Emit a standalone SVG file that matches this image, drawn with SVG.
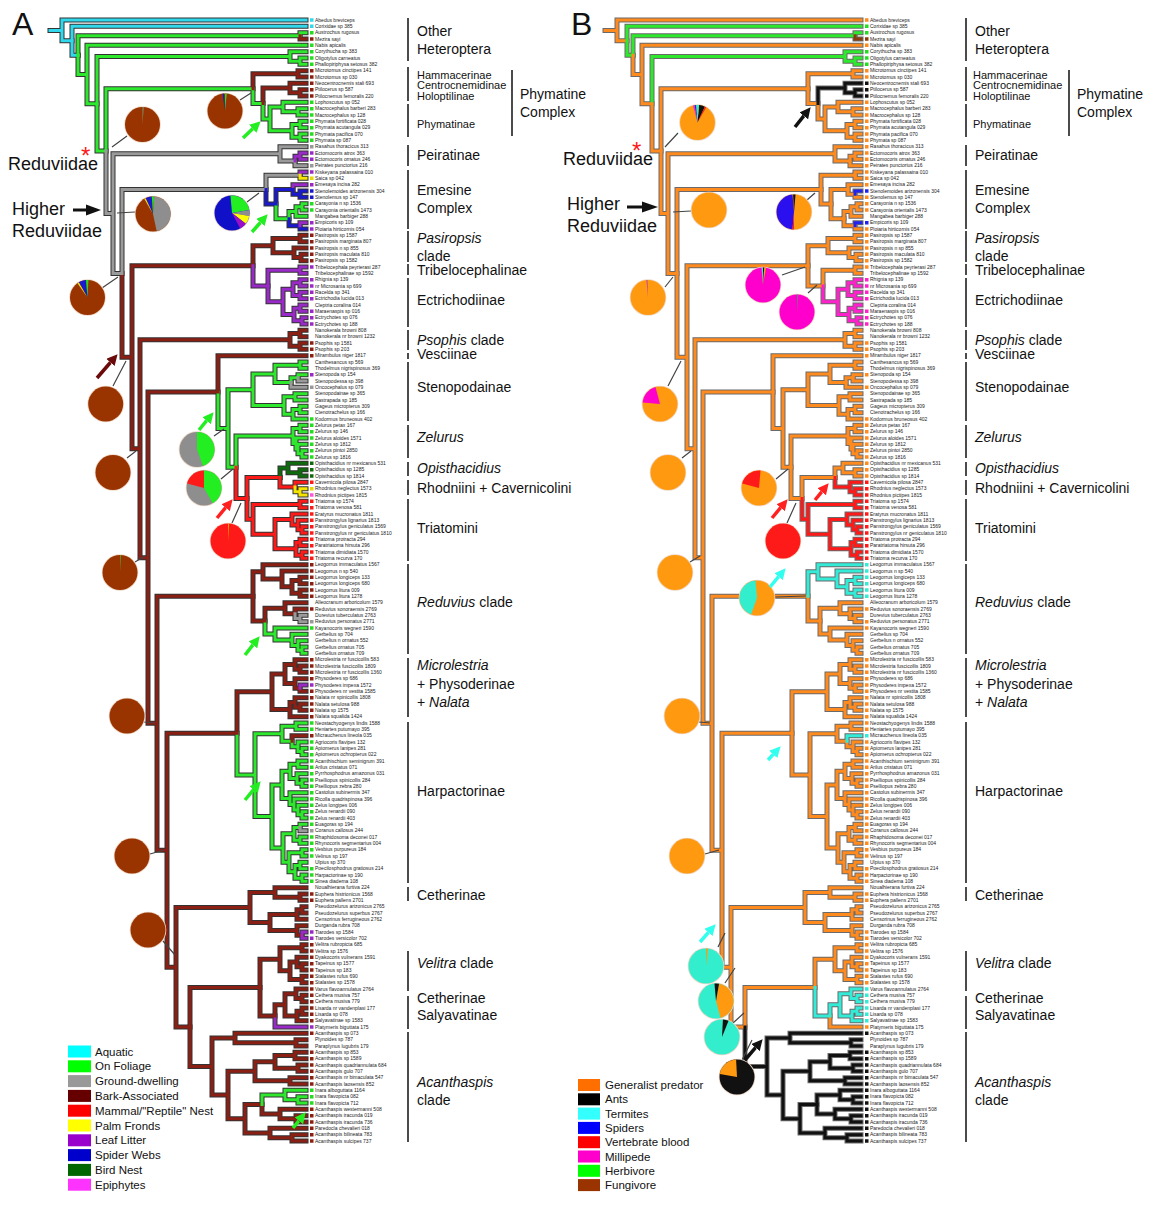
<svg xmlns="http://www.w3.org/2000/svg" xmlns:xlink="http://www.w3.org/1999/xlink" width="1160" height="1205" viewBox="0 0 1160 1205">
<style>
.t{font-family:"Liberation Sans",Arial,sans-serif;font-size:5px;fill:#222}
.c{font-family:"Liberation Sans",Arial,sans-serif;font-size:14px;fill:#111}
.cs{font-family:"Liberation Sans",Arial,sans-serif;font-size:11px;fill:#111}
.lg{font-family:"Liberation Sans",Arial,sans-serif;font-size:11.5px;fill:#111}
.big{font-family:"Liberation Sans",Arial,sans-serif;font-size:18px;fill:#111}
.let{font-family:"Liberation Sans",Arial,sans-serif;font-size:32px;fill:#111}
.ast{font-size:24px;fill:#ff1a1a}
.bar{stroke:#111;stroke-width:1.5;fill:none}
.pl{stroke:#444;stroke-width:1.2;fill:none}
.halo{fill:none;stroke:#eed8c8;stroke-width:1.6}
.arr{stroke-width:3.5;fill:none}
</style>
<defs>
<marker id="mG" viewBox="0 0 10 10" refX="0" refY="5" markerWidth="11" markerHeight="11" markerUnits="userSpaceOnUse" orient="auto"><path d="M0 0L10 5L0 10Z" fill="#22ee22"/></marker>
<marker id="mR" viewBox="0 0 10 10" refX="0" refY="5" markerWidth="11" markerHeight="11" markerUnits="userSpaceOnUse" orient="auto"><path d="M0 0L10 5L0 10Z" fill="#ff2020"/></marker>
<marker id="mM" viewBox="0 0 10 10" refX="0" refY="5" markerWidth="11" markerHeight="11" markerUnits="userSpaceOnUse" orient="auto"><path d="M0 0L10 5L0 10Z" fill="#6b0a0a"/></marker>
<marker id="mK" viewBox="0 0 10 10" refX="0" refY="5" markerWidth="11" markerHeight="11" markerUnits="userSpaceOnUse" orient="auto"><path d="M0 0L10 5L0 10Z" fill="#111"/></marker>
<marker id="mC" viewBox="0 0 10 10" refX="0" refY="5" markerWidth="11" markerHeight="11" markerUnits="userSpaceOnUse" orient="auto"><path d="M0 0L10 5L0 10Z" fill="#33ffee"/></marker>
<path id="g1" vector-effect="non-scaling-stroke" d="M50 2.64H62M62 2.64V1H306M62 2.64V4.28H72"/>
<path id="g2" vector-effect="non-scaling-stroke" d="M72 4.28V2H306M72 4.28V6.56H78"/>
<path id="g3" vector-effect="non-scaling-stroke" d="M78 6.56V3.5H300M300 3.5V3H306M97 14.23V6.75H290M290 6.75V6H306M290 6.75V7.5H300M300 7.5V7H306M300 7.5V8H306"/>
<path id="g4" vector-effect="non-scaling-stroke" d="M300 3.5V4H306"/>
<path id="g5" vector-effect="non-scaling-stroke" d="M78 6.56V9.61H87M87 9.61V5H306M87 9.61V14.23H97M97 14.23V21.7H106M106 21.7V11.84H253M253 11.84V14.19H263M263 14.19V16.625H270M270 16.625V14.75H283M283 14.75V14H306M283 14.75V15.5H298M298 15.5V15H306M298 15.5V16H306M270 16.625V18.5H292M292 18.5V17.5H300M300 17.5V17H306M300 17.5V18H306M292 18.5V19.5H300M300 19.5V19H306M300 19.5V20H306M276 30.06V32.375H289M289 32.375V31.25H296M296 31.25V30.5H302M302 30.5V30H306M302 30.5V31H306M296 31.25V32H306M218 59.75V65.5H228M228 65.5V59.375H253M253 59.375V56.875H275M275 56.875V55.5H300M300 55.5V55H306M300 55.5V56H306M275 56.875V58.25H291M291 58.25V57.5H298M298 57.5V57H306M253 59.375V61.875H284M284 61.875V60.5H295M295 60.5V60H306M295 60.5V61H306M284 61.875V63.25H293M293 63.25V62.5H300M300 62.5V62H306M300 62.5V63H306M293 63.25V64H306M228 65.5V71.62H236M236 71.62V66.69H293M293 66.69V65.5H300M300 65.5V65H306M300 65.5V66H306M293 66.69V67.875H296M296 67.875V67H306M296 67.875V68.75H298M298 68.75V68H306M298 68.75V69.5H302M302 69.5V69H306M302 69.5V70H306M265 95.9V97.94H275M275 97.94V97H306M275 97.94V98.875H292M292 98.875V98H306M292 98.875V99.75H298M298 99.75V99H306M298 99.75V100.5H302M302 100.5V100H306M302 100.5V101H306M237 113.6V120.23H255M255 120.23V113.69H282M282 113.69V112.5H296M296 112.5V112H306M296 112.5V113H306M282 113.69V114.875H292M292 114.875V115.75H298M298 115.75V115H306M298 115.75V116.5H302M302 116.5V116H306M302 116.5V117H306M255 120.23V126.77H272M272 126.77V121.78H282M282 121.78V119.625H290M290 119.625V118.5H298M298 118.5V118H306M298 118.5V119H306M290 119.625V120.75H297M297 120.75V120H306M297 120.75V121.5H302M302 121.5V121H306M302 121.5V122H306M282 121.78V123.94H290M290 123.94V123H306M290 123.94V124.875H294M294 124.875V124H306M294 124.875V125.75H298M298 125.75V125H306M298 125.75V126.5H302M302 126.5V126H306M302 126.5V127H306M272 126.77V131.75H283M283 131.75V129.5H294M294 129.5V128.5H300M300 128.5V128H306M294 129.5V130.5H300M300 130.5V130H306M300 130.5V131H306M283 131.75V134H289M289 134V132.5H302M302 132.5V132H306M302 132.5V133H306M289 134V135.5H295M295 135.5V134.5H300M300 134.5V134H306M300 134.5V135H306M295 135.5V136.5H302M302 136.5V136H306M302 136.5V137H306"/>
<path id="g6" vector-effect="non-scaling-stroke" d="M253 11.84V9.5H298M298 9.5V9H306M298 9.5V10H306M122 41.02V54.26H132M132 54.26V39.81H253M253 39.81V36.625H273M273 36.625V35.5H300M300 35.5V35H306M300 35.5V36H306M273 36.625V37.75H294M294 37.75V37H306M294 37.75V38.5H301M301 38.5V38H306M301 38.5V39H306M132 54.26V68.7H140M140 68.7V51.5H290M290 51.5V50.5H300M300 50.5V50H306M300 50.5V51H306M290 51.5V52.5H300M300 52.5V52H306M300 52.5V53H306M140 68.7V85.9H148M148 85.9V59.75H218M218 59.75V54H306M148 85.9V112.05H157M157 112.05V92H253M253 92V95.9H265M265 95.9V93.875H285M285 93.875V93H306M285 93.875V94.75H295M295 94.75V94H306M157 112.05V132.1H167M167 132.1V113.6H237M237 113.6V107.06H272M272 107.06V104.25H285M285 104.25V102.75H295M295 102.75V102H306M295 102.75V103.5H300M300 103.5V103H306M300 103.5V104H306M285 104.25V105.75H295M295 105.75V105H306M295 105.75V106.5H300M300 106.5V107H306M272 107.06V109.875H290M290 109.875V108.75H295M295 108.75V108H306M295 108.75V109.5H300M300 109.5V109H306M300 109.5V110H306M290 109.875V111H306M167 132.1V150.56H176M176 150.56V141.125H250M250 141.125V138.75H275M275 138.75V138H306M275 138.75V139.5H300M300 139.5V139H306M300 139.5V140H306M250 141.125V143.5H270M270 143.5V142.25H297M297 142.25V141.5H302M302 141.5V141H306M302 141.5V142H306M297 142.25V143H306M270 143.5V144.75H297M297 144.75V144H306M297 144.75V145.5H302M176 150.56V160H190M190 160V153.78H260M260 153.78V149.31H280M280 149.31V147.5H302M302 147.5V147H306M302 147.5V148H306M280 149.31V151.125H290M290 151.125V149.75H297M297 149.75V149H306M297 149.75V150.5H302M302 150.5V150H306M302 150.5V151H306M290 151.125V152.5H302M302 152.5V152H306M302 152.5V153H306"/>
<path id="g7" vector-effect="non-scaling-stroke" d="M263 14.19V11.75H290M290 11.75V11H306M290 11.75V12.5H300M300 12.5V12H306M300 12.5V13H306M190 160V166.25H212M212 166.25V161.75H235M235 161.75V161H306M235 161.75V162.5H296M296 162.5V162H306M296 162.5V163H306M212 166.25V170.75H228M228 170.75V167H255M255 167V165.5H275M275 165.5V164.5H295M295 164.5V164H306M295 164.5V165H306M275 165.5V166.5H298M298 166.5V166H306M298 166.5V167H306M255 167V168.5H290M290 168.5V168H306M290 168.5V169H306M228 170.75V174.5H245M245 174.5V172.25H262M262 172.25V173.75H280M280 173.75V173H306M280 173.75V174.5H296M296 174.5V174H306M296 174.5V175H306M245 174.5V176.75H270M270 176.75V176H306M270 176.75V177.5H292M292 177.5V177H306M292 177.5V178H306"/>
<path id="g8" vector-effect="non-scaling-stroke" d="M106 21.7V31.57H113M113 31.57V22.125H280M280 22.125V21H306M280 22.125V23.25H295M295 23.25V24H306M113 31.57V41.02H122M122 41.02V27.78H266M266 27.78V25.5H300M298 57.5V58H306M291 58.25V59H306M295 94.75V95.5H300M300 95.5V95H306M300 95.5V96H306M300 128.5V129H306"/>
<path id="g9" vector-effect="non-scaling-stroke" d="M295 23.25V22.5H300M300 22.5V22H306M300 22.5V23H306M300 25.5V25H306M293 27.75V27H306M253 39.81V43H268M268 43V40.5H300M300 40.5V40H306M300 40.5V41H306M300 106.5V106H306M302 145.5V145H306M302 145.5V146H306M275 158.25V160H306"/>
<path id="g10" vector-effect="non-scaling-stroke" d="M300 25.5V26H306"/>
<path id="g11" vector-effect="non-scaling-stroke" d="M266 27.78V30.06H276M276 30.06V27.75H293M293 27.75V28.5H300M300 28.5V29H306M289 32.375V33.5H300M300 33.5V34H306"/>
<path id="g12" vector-effect="non-scaling-stroke" d="M300 28.5V28H306"/>
<path id="g13" vector-effect="non-scaling-stroke" d="M300 33.5V33H306"/>
<path id="g14" vector-effect="non-scaling-stroke" d="M268 43V45.5H283M283 45.5V43.5H293M293 43.5V42.5H300M300 42.5V42H306M300 42.5V43H306M293 43.5V44.5H300M300 44.5V44H306M300 44.5V45H306M283 45.5V47.5H294M294 47.5V46.5H300M300 46.5V46H306M300 46.5V47H306M294 47.5V48.5H302M302 48.5V48H306M302 48.5V49H306"/>
<path id="g15" vector-effect="non-scaling-stroke" d="M236 71.62V76.55H247M247 76.55V73.25H280"/>
<path id="g16" vector-effect="non-scaling-stroke" d="M280 73.25V71.75H288M288 71.75V71H306M288 71.75V72.5H300M300 72.5V72H306M300 72.5V73H306"/>
<path id="g17" vector-effect="non-scaling-stroke" d="M280 73.25V74.75H295M295 74.75V74H306M247 76.55V79.84H253M253 79.84V77.5H300M300 77.5V77H306M300 77.5V78H306M253 79.84V82.19H275M275 82.19V79.875H292M292 79.875V79H306M292 79.875V80.75H298M298 80.75V80H306M298 80.75V81.5H302M302 81.5V81H306M302 81.5V82H306M275 82.19V84.5H296M296 84.5V83.5H300M300 83.5V83H306M300 83.5V84H306M296 84.5V85.5H302M302 85.5V85H306M302 85.5V86H306"/>
<path id="g18" vector-effect="non-scaling-stroke" d="M295 74.75V75.5H300M300 75.5V75H306M300 75.5V76H306"/>
<path id="g19" vector-effect="non-scaling-stroke" d="M253 92V88.125H263M263 88.125V87H306M263 88.125V89.25H282M282 89.25V88H306M282 89.25V90.5H292M292 90.5V89.5H300M300 89.5V89H306M300 89.5V90H306M292 90.5V91.5H300M300 91.5V91H306M300 91.5V92H306M292 114.875V114H306M260 153.78V158.25H275M275 158.25V156.5H285M285 156.5V154.75H296M296 154.75V154H306M296 154.75V155.5H302M302 155.5V155H306M302 155.5V156H306M285 156.5V158.25H297M297 158.25V157.5H302M302 157.5V157H306M302 157.5V158H306M297 158.25V159H306"/>
<path id="g20" vector-effect="non-scaling-stroke" d="M262 172.25V170.75H285M285 170.75V170H306M285 170.75V171.5H298M298 171.5V171H306M298 171.5V172H306"/>
<g id="olAll"><use href="#g1"/><use href="#g2"/><use href="#g3"/><use href="#g4"/><use href="#g5"/><use href="#g6"/><use href="#g7"/><use href="#g8"/><use href="#g9"/><use href="#g10"/><use href="#g11"/><use href="#g12"/><use href="#g13"/><use href="#g14"/><use href="#g15"/><use href="#g16"/><use href="#g17"/><use href="#g18"/><use href="#g19"/><use href="#g20"/></g>
</defs>
<rect width="1160" height="1205" fill="#fff"/>

<!-- TREE A connectors -->
<g id="treeA-connectors" transform="translate(0,13.667) scale(1,6.33333)" fill="none" stroke-linecap="square">
<g stroke="#333" stroke-width="5"><use href="#olAll"/></g>
<g stroke-width="3">
<use href="#g1" stroke="#30d8ec"/><use href="#g2" stroke="#30d8ec"/><use href="#g3" stroke="#2ee82e"/><use href="#g4" stroke="#8b1f14"/><use href="#g5" stroke="#2ee82e"/><use href="#g6" stroke="#8b1f14"/><use href="#g7" stroke="#8b1f14"/><use href="#g8" stroke="#9a9a9a"/><use href="#g9" stroke="#9a2ac8"/><use href="#g10" stroke="#f4e400"/><use href="#g11" stroke="#1a1acc"/><use href="#g12" stroke="#1a1acc"/><use href="#g13" stroke="#9a2ac8"/><use href="#g14" stroke="#9a2ac8"/><use href="#g15" stroke="#ff1a1a"/><use href="#g16" stroke="#0d6b0d"/><use href="#g17" stroke="#ff1a1a"/><use href="#g18" stroke="#f4e400"/><use href="#g19" stroke="#8b1f14"/><use href="#g20" stroke="#2ee82e"/>
</g>
<g stroke-width="3.5" stroke-linecap="butt">
<path vector-effect="non-scaling-stroke" stroke="#30d8ec" d="M310 1h3.5M310 2h3.5"/>
<path vector-effect="non-scaling-stroke" stroke="#22dd22" d="M310 3h3.5M310 5h3.5M310 6h3.5M310 7h3.5M310 8h3.5M310 14h3.5M310 15h3.5M310 16h3.5M310 17h3.5M310 18h3.5M310 19h3.5M310 20h3.5M310 30h3.5M310 31h3.5M310 64h3.5M310 65h3.5M310 66h3.5M310 67h3.5M310 68h3.5M310 69h3.5M310 70h3.5M310 97h3.5M310 112h3.5M310 113h3.5M310 115h3.5M310 116h3.5M310 117h3.5M310 118h3.5M310 119h3.5M310 120h3.5M310 121h3.5M310 122h3.5M310 123h3.5M310 124h3.5M310 125h3.5M310 126h3.5M310 127h3.5M310 128h3.5M310 130h3.5M310 131h3.5M310 132h3.5M310 133h3.5M310 135h3.5M310 136h3.5M310 137h3.5M310 170h3.5M310 171h3.5M310 172h3.5"/>
<path vector-effect="non-scaling-stroke" stroke="#8b1f14" d="M310 4h3.5M310 9h3.5M310 10h3.5M310 11h3.5M310 12h3.5M310 13h3.5M310 35h3.5M310 36h3.5M310 37h3.5M310 38h3.5M310 39h3.5M310 52h3.5M310 53h3.5M310 54h3.5M310 87h3.5M310 88h3.5M310 89h3.5M310 90h3.5M310 91h3.5M310 92h3.5M310 94h3.5M310 102h3.5M310 103h3.5M310 104h3.5M310 105h3.5M310 107h3.5M310 108h3.5M310 109h3.5M310 110h3.5M310 111h3.5M310 114h3.5M310 139h3.5M310 140h3.5M310 147h3.5M310 148h3.5M310 149h3.5M310 150h3.5M310 151h3.5M310 152h3.5M310 153h3.5M310 154h3.5M310 155h3.5M310 156h3.5M310 157h3.5M310 158h3.5M310 159h3.5M310 161h3.5M310 164h3.5M310 165h3.5M310 166h3.5M310 167h3.5M310 168h3.5M310 169h3.5M310 173h3.5M310 174h3.5M310 175h3.5M310 176h3.5M310 177h3.5M310 178h3.5"/>
<path vector-effect="non-scaling-stroke" stroke="#999" d="M310 21h3.5M310 24h3.5M310 59h3.5M310 96h3.5M310 129h3.5"/>
<path vector-effect="non-scaling-stroke" stroke="#9a2ac8" d="M310 22h3.5M310 23h3.5M310 25h3.5M310 27h3.5M310 33h3.5M310 34h3.5M310 40h3.5M310 42h3.5M310 43h3.5M310 44h3.5M310 45h3.5M310 47h3.5M310 48h3.5M310 49h3.5M310 57h3.5M310 106h3.5M310 145h3.5M310 146h3.5M310 160h3.5"/>
<path vector-effect="non-scaling-stroke" stroke="#e8d800" d="M310 26h3.5M310 75h3.5"/>
<path vector-effect="non-scaling-stroke" stroke="#1a1acc" d="M310 28h3.5M310 29h3.5"/>
<path vector-effect="non-scaling-stroke" stroke="#0d6b0d" d="M310 71h3.5M310 72h3.5M310 73h3.5"/>
<path vector-effect="non-scaling-stroke" stroke="#ff1a1a" d="M310 74h3.5M310 77h3.5M310 78h3.5M310 79h3.5M310 80h3.5M310 81h3.5M310 82h3.5M310 83h3.5M310 84h3.5M310 85h3.5M310 86h3.5"/>
<path vector-effect="non-scaling-stroke" stroke="#ff55dd" d="M310 76h3.5"/>
</g>
</g>

<!-- TREE B connectors -->
<g id="treeB-connectors" transform="translate(555,13.667) scale(1,6.33333)" fill="none" stroke-linecap="square">
<g stroke="#6a6a6a" stroke-width="5"><use href="#olAll"/></g>
<g stroke-width="3">
<use href="#g1" stroke="#ff8a1e"/><use href="#g2" stroke="#2ee82e"/><use href="#g3" stroke="#2ee82e"/><use href="#g4" stroke="#8b3a0e"/><use href="#g5" stroke="#ff8a1e"/><use href="#g6" stroke="#ff8a1e"/><use href="#g7" stroke="#111"/><use href="#g8" stroke="#ff8a1e"/><use href="#g9" stroke="#ff8a1e"/><use href="#g10" stroke="#ff8a1e"/><use href="#g11" stroke="#ff8a1e"/><use href="#g12" stroke="#2222ee"/><use href="#g13" stroke="#2222ee"/><use href="#g14" stroke="#ff22cc"/><use href="#g15" stroke="#ff8a1e"/><use href="#g16" stroke="#ff8a1e"/><use href="#g17" stroke="#ff1a1a"/><use href="#g18" stroke="#ff1a1a"/><use href="#g19" stroke="#33ecd8"/><use href="#g20" stroke="#111"/>
</g>
<g stroke-width="3.5" stroke-linecap="butt">
<path vector-effect="non-scaling-stroke" stroke="#ff8a1e" d="M310 1h3.5M310 5h3.5M310 9h3.5M310 10h3.5M310 14h3.5M310 15h3.5M310 16h3.5M310 17h3.5M310 18h3.5M310 19h3.5M310 20h3.5M310 21h3.5M310 22h3.5M310 23h3.5M310 24h3.5M310 25h3.5M310 26h3.5M310 27h3.5M310 29h3.5M310 30h3.5M310 31h3.5M310 34h3.5M310 35h3.5M310 36h3.5M310 37h3.5M310 38h3.5M310 39h3.5M310 40h3.5M310 52h3.5M310 53h3.5M310 54h3.5M310 57h3.5M310 59h3.5M310 64h3.5M310 65h3.5M310 66h3.5M310 67h3.5M310 68h3.5M310 69h3.5M310 70h3.5M310 71h3.5M310 72h3.5M310 73h3.5M310 94h3.5M310 96h3.5M310 97h3.5M310 102h3.5M310 103h3.5M310 104h3.5M310 105h3.5M310 106h3.5M310 107h3.5M310 108h3.5M310 109h3.5M310 110h3.5M310 111h3.5M310 112h3.5M310 113h3.5M310 115h3.5M310 116h3.5M310 117h3.5M310 118h3.5M310 119h3.5M310 120h3.5M310 121h3.5M310 122h3.5M310 123h3.5M310 124h3.5M310 125h3.5M310 126h3.5M310 127h3.5M310 128h3.5M310 129h3.5M310 130h3.5M310 131h3.5M310 132h3.5M310 133h3.5M310 135h3.5M310 136h3.5M310 137h3.5M310 139h3.5M310 140h3.5M310 145h3.5M310 146h3.5M310 147h3.5M310 148h3.5M310 149h3.5M310 150h3.5M310 151h3.5M310 152h3.5M310 153h3.5M310 160h3.5"/>
<path vector-effect="non-scaling-stroke" stroke="#22dd22" d="M310 2h3.5M310 3h3.5M310 6h3.5M310 7h3.5M310 8h3.5"/>
<path vector-effect="non-scaling-stroke" stroke="#8b3a0e" d="M310 4h3.5"/>
<path vector-effect="non-scaling-stroke" stroke="#111" d="M310 11h3.5M310 12h3.5M310 13h3.5M310 161h3.5M310 164h3.5M310 165h3.5M310 166h3.5M310 167h3.5M310 168h3.5M310 169h3.5M310 170h3.5M310 171h3.5M310 172h3.5M310 173h3.5M310 174h3.5M310 175h3.5M310 176h3.5M310 177h3.5M310 178h3.5"/>
<path vector-effect="non-scaling-stroke" stroke="#2222ee" d="M310 28h3.5M310 33h3.5"/>
<path vector-effect="non-scaling-stroke" stroke="#ff22cc" d="M310 42h3.5M310 43h3.5M310 44h3.5M310 45h3.5M310 47h3.5M310 48h3.5M310 49h3.5"/>
<path vector-effect="non-scaling-stroke" stroke="#ff1a1a" d="M310 74h3.5M310 75h3.5M310 76h3.5M310 77h3.5M310 78h3.5M310 79h3.5M310 80h3.5M310 81h3.5M310 82h3.5M310 83h3.5M310 84h3.5M310 85h3.5M310 86h3.5"/>
<path vector-effect="non-scaling-stroke" stroke="#33ecd8" d="M310 87h3.5M310 88h3.5M310 89h3.5M310 90h3.5M310 91h3.5M310 92h3.5M310 114h3.5M310 154h3.5M310 155h3.5M310 156h3.5M310 157h3.5M310 158h3.5M310 159h3.5"/>
</g>
</g>

<!-- Tip labels A -->
<g id="tipsA"><text class="t"><tspan x="315" y="21.8">Abedus breviceps</tspan><tspan x="315" dy="6.3333">Corixidae sp 385</tspan><tspan x="315" dy="6.3333">Austrochus rugosus</tspan><tspan x="315" dy="6.3333">Mezira sayi</tspan><tspan x="315" dy="6.3333">Nabis apicalis</tspan><tspan x="315" dy="6.3333">Corythucha sp 383</tspan><tspan x="315" dy="6.3333">Oligotylus carneatus</tspan><tspan x="315" dy="6.3333">Phallopiriphysa setosus 382</tspan><tspan x="315" dy="6.3333">Microtomus cinctipes 141</tspan><tspan x="315" dy="6.3333">Microtomus sp 030</tspan><tspan x="315" dy="6.3333">Neocentrocnemis stali 693</tspan><tspan x="315" dy="6.3333">Ptilocerus sp 587</tspan><tspan x="315" dy="6.3333">Ptilocnemus femoralis 220</tspan><tspan x="315" dy="6.3333">Lophoscutus sp 052</tspan><tspan x="315" dy="6.3333">Macrocephalus barberi 283</tspan><tspan x="315" dy="6.3333">Macrocephalus sp 128</tspan><tspan x="315" dy="6.3333">Phymata fortificata 028</tspan><tspan x="315" dy="6.3333">Phymata acutangula 029</tspan><tspan x="315" dy="6.3333">Phymata pacifica 070</tspan><tspan x="315" dy="6.3333">Phymata sp 087</tspan><tspan x="315" dy="6.3333">Rasahus thoracicus 313</tspan><tspan x="315" dy="6.3333">Ectomocoris atrox 363</tspan><tspan x="315" dy="6.3333">Ectomocoris ornatus 246</tspan><tspan x="315" dy="6.3333">Peirates punctorius 216</tspan><tspan x="315" dy="6.3333">Kiskeyana palassaina 010</tspan><tspan x="315" dy="6.3333">Saica sp 042</tspan><tspan x="315" dy="6.3333">Emesaya incisa 282</tspan><tspan x="315" dy="6.3333">Stenolemoides arizonensis 304</tspan><tspan x="315" dy="6.3333">Stenolemus sp 147</tspan><tspan x="315" dy="6.3333">Carayonia n sp 1536</tspan><tspan x="315" dy="6.3333">Carayonia orientalis 1473</tspan><tspan x="315" dy="6.3333">Mangabea barbiger 288</tspan><tspan x="315" dy="6.3333">Empicoris sp 109</tspan><tspan x="315" dy="6.3333">Ploiaria hirticornis 054</tspan><tspan x="315" dy="6.3333">Pasiropsis sp 1587</tspan><tspan x="315" dy="6.3333">Pasiropsis marginata 807</tspan><tspan x="315" dy="6.3333">Pasiropsis n sp 855</tspan><tspan x="315" dy="6.3333">Pasiropsis maculata 810</tspan><tspan x="315" dy="6.3333">Pasiropsis sp 1582</tspan><tspan x="315" dy="6.3333">Tribelocephala peyrierasi 287</tspan><tspan x="315" dy="6.3333">Tribelocephalinae sp 1592</tspan><tspan x="315" dy="6.3333">Rhignia sp 139</tspan><tspan x="315" dy="6.3333">nr Microsania sp 699</tspan><tspan x="315" dy="6.3333">Racelda sp 341</tspan><tspan x="315" dy="6.3333">Ectrichodia lucida 013</tspan><tspan x="315" dy="6.3333">Cleptria coralina 014</tspan><tspan x="315" dy="6.3333">Maraenaspis sp 016</tspan><tspan x="315" dy="6.3333">Ectrychotes sp 076</tspan><tspan x="315" dy="6.3333">Ectrychotes sp 188</tspan><tspan x="315" dy="6.3333">Nanokerala browni 808</tspan><tspan x="315" dy="6.3333">Nanokerala nr browni 1232</tspan><tspan x="315" dy="6.3333">Psophis sp 1581</tspan><tspan x="315" dy="6.3333">Psophis sp 203</tspan><tspan x="315" dy="6.3333">Mirambulus niger 1817</tspan><tspan x="315" dy="6.3333">Canthesancus sp 569</tspan><tspan x="315" dy="6.3333">Thodelmus nigrispinosus 369</tspan><tspan x="315" dy="6.3333">Stenopoda sp 154</tspan><tspan x="315" dy="6.3333">Stenopodessa sp 398</tspan><tspan x="315" dy="6.3333">Oncocephalus sp 079</tspan><tspan x="315" dy="6.3333">Stenopodainae sp 365</tspan><tspan x="315" dy="6.3333">Sastrapada sp 185</tspan><tspan x="315" dy="6.3333">Gageus micropterus 309</tspan><tspan x="315" dy="6.3333">Ctenotrachelus sp 166</tspan><tspan x="315" dy="6.3333">Kodormus bruneosus 402</tspan><tspan x="315" dy="6.3333">Zelurus petax 167</tspan><tspan x="315" dy="6.3333">Zelurus sp 146</tspan><tspan x="315" dy="6.3333">Zelurus aloides 1571</tspan><tspan x="315" dy="6.3333">Zelurus sp 1812</tspan><tspan x="315" dy="6.3333">Zelurus pintoi 2850</tspan><tspan x="315" dy="6.3333">Zelurus sp 1816</tspan><tspan x="315" dy="6.3333">Opisthacidius nr mexicanus 531</tspan><tspan x="315" dy="6.3333">Opisthacidius sp 1285</tspan><tspan x="315" dy="6.3333">Opisthacidius sp 1814</tspan><tspan x="315" dy="6.3333">Cavernicola pilosa 2847</tspan><tspan x="315" dy="6.3333">Rhodnius neglectus 1573</tspan><tspan x="315" dy="6.3333">Rhodnius pictipes 1815</tspan><tspan x="315" dy="6.3333">Triatoma sp 1574</tspan><tspan x="315" dy="6.3333">Triatoma venosa 581</tspan><tspan x="315" dy="6.3333">Eratyrus mucronatus 1811</tspan><tspan x="315" dy="6.3333">Panstrongylus lignarius 1813</tspan><tspan x="315" dy="6.3333">Panstrongylus geniculatus 1569</tspan><tspan x="315" dy="6.3333">Panstrongylus nr geniculatus 1810</tspan><tspan x="315" dy="6.3333">Triatoma protracta 294</tspan><tspan x="315" dy="6.3333">Paratriatoma hirsuta 296</tspan><tspan x="315" dy="6.3333">Triatoma dimidiata 1570</tspan><tspan x="315" dy="6.3333">Triatoma recurva 170</tspan><tspan x="315" dy="6.3333">Leogorrus immaculatus 1567</tspan><tspan x="315" dy="6.3333">Leogorrus n sp 540</tspan><tspan x="315" dy="6.3333">Leogorrus longiceps 133</tspan><tspan x="315" dy="6.3333">Leogorrus longiceps 680</tspan><tspan x="315" dy="6.3333">Leogorrus litura 009</tspan><tspan x="315" dy="6.3333">Leogorrus litura 1278</tspan><tspan x="315" dy="6.3333">Alleocranum arboricolum 1579</tspan><tspan x="315" dy="6.3333">Reduvius sonoraensis 2769</tspan><tspan x="315" dy="6.3333">Durevius tuberculatus 2763</tspan><tspan x="315" dy="6.3333">Reduvius personatus 2771</tspan><tspan x="315" dy="6.3333">Kayanocoris wegneri 1590</tspan><tspan x="315" dy="6.3333">Gerbelius sp 704</tspan><tspan x="315" dy="6.3333">Gerbelius n ornatus 552</tspan><tspan x="315" dy="6.3333">Gerbelius ornatus 705</tspan><tspan x="315" dy="6.3333">Gerbelius ornatus 709</tspan><tspan x="315" dy="6.3333">Microlestria nr fuscicollis 583</tspan><tspan x="315" dy="6.3333">Microlestria fuscicollis 1809</tspan><tspan x="315" dy="6.3333">Microlestria nr fuscicollis 1360</tspan><tspan x="315" dy="6.3333">Physoderes sp 686</tspan><tspan x="315" dy="6.3333">Physoderes impexa 1572</tspan><tspan x="315" dy="6.3333">Physoderes nr vestita 1585</tspan><tspan x="315" dy="6.3333">Nalata nr spinicollis 1808</tspan><tspan x="315" dy="6.3333">Nalata setulosa 988</tspan><tspan x="315" dy="6.3333">Nalata sp 1575</tspan><tspan x="315" dy="6.3333">Nalata squalida 1424</tspan><tspan x="315" dy="6.3333">Neostachyogenys lindis 1588</tspan><tspan x="315" dy="6.3333">Heniartes putumayo 395</tspan><tspan x="315" dy="6.3333">Micrauchenus lineola 035</tspan><tspan x="315" dy="6.3333">Agriocoris flavipes 132</tspan><tspan x="315" dy="6.3333">Apiomerus lanipes 281</tspan><tspan x="315" dy="6.3333">Apiomerus ochropterus 022</tspan><tspan x="315" dy="6.3333">Acanthischium seminigrum 391</tspan><tspan x="315" dy="6.3333">Arilus cristatus 071</tspan><tspan x="315" dy="6.3333">Pyrrhosphodrus amazonus 031</tspan><tspan x="315" dy="6.3333">Pselliopus spinicollis 284</tspan><tspan x="315" dy="6.3333">Pselliopus zebra 280</tspan><tspan x="315" dy="6.3333">Castolus subinermis 347</tspan><tspan x="315" dy="6.3333">Ricolla quadrispinosa 396</tspan><tspan x="315" dy="6.3333">Zelus longipes 006</tspan><tspan x="315" dy="6.3333">Zelus renardii 090</tspan><tspan x="315" dy="6.3333">Zelus renardii 403</tspan><tspan x="315" dy="6.3333">Euagoras sp 194</tspan><tspan x="315" dy="6.3333">Coranus callosus 244</tspan><tspan x="315" dy="6.3333">Rhaphidosoma deconei 017</tspan><tspan x="315" dy="6.3333">Rhynocoris segmentarius 004</tspan><tspan x="315" dy="6.3333">Vesbius purpureus 184</tspan><tspan x="315" dy="6.3333">Velinus sp 197</tspan><tspan x="315" dy="6.3333">Ulpius sp 370</tspan><tspan x="315" dy="6.3333">Poecilosphodrus gratiosus 214</tspan><tspan x="315" dy="6.3333">Harpactorinae sp 190</tspan><tspan x="315" dy="6.3333">Sinea diadema 108</tspan><tspan x="315" dy="6.3333">Noualhierana furtiva 224</tspan><tspan x="315" dy="6.3333">Euphera histrionicus 1568</tspan><tspan x="315" dy="6.3333">Euphera pallens 2701</tspan><tspan x="315" dy="6.3333">Pseudozelurus arizonicus 2765</tspan><tspan x="315" dy="6.3333">Pseudozelurus superbus 2767</tspan><tspan x="315" dy="6.3333">Censorinus ferrugineous 2762</tspan><tspan x="315" dy="6.3333">Durganda rubra 708</tspan><tspan x="315" dy="6.3333">Tiarodes sp 1584</tspan><tspan x="315" dy="6.3333">Tiarodes versicolor 702</tspan><tspan x="315" dy="6.3333">Velitra rubropicta 685</tspan><tspan x="315" dy="6.3333">Velitra sp 1576</tspan><tspan x="315" dy="6.3333">Dyakocoris vulnerans 1591</tspan><tspan x="315" dy="6.3333">Tapeinus sp 1577</tspan><tspan x="315" dy="6.3333">Tapeinus sp 183</tspan><tspan x="315" dy="6.3333">Stalastes rufus 690</tspan><tspan x="315" dy="6.3333">Stalastes sp 1578</tspan><tspan x="315" dy="6.3333">Varus flavoannulatus 2764</tspan><tspan x="315" dy="6.3333">Cethera musiva 757</tspan><tspan x="315" dy="6.3333">Cethera musiva 779</tspan><tspan x="315" dy="6.3333">Lisarda nr vandenplasi 177</tspan><tspan x="315" dy="6.3333">Lisarda sp 078</tspan><tspan x="315" dy="6.3333">Salyavatinae sp 1583</tspan><tspan x="315" dy="6.3333">Platymeris biguttata 175</tspan><tspan x="315" dy="6.3333">Acanthaspis sp 073</tspan><tspan x="315" dy="6.3333">Plynoides sp 787</tspan><tspan x="315" dy="6.3333">Paraplynus lugubris 179</tspan><tspan x="315" dy="6.3333">Acanthaspis sp 853</tspan><tspan x="315" dy="6.3333">Acanthaspis sp 1589</tspan><tspan x="315" dy="6.3333">Acanthaspis quadriannulata 684</tspan><tspan x="315" dy="6.3333">Acanthaspis gulo 707</tspan><tspan x="315" dy="6.3333">Acanthaspis nr bimaculata 547</tspan><tspan x="315" dy="6.3333">Acanthaspis laosensis 852</tspan><tspan x="315" dy="6.3333">Inara alboguttata 1164</tspan><tspan x="315" dy="6.3333">Inara flavopicta 082</tspan><tspan x="315" dy="6.3333">Inara flavopicta 712</tspan><tspan x="315" dy="6.3333">Acanthaspis westermanni 508</tspan><tspan x="315" dy="6.3333">Acanthaspis iracunda 019</tspan><tspan x="315" dy="6.3333">Acanthaspis iracunda 736</tspan><tspan x="315" dy="6.3333">Paredocla chevalieri 018</tspan><tspan x="315" dy="6.3333">Acanthaspis bilineata 783</tspan><tspan x="315" dy="6.3333">Acanthaspis sulcipes 737</tspan></text></g>

<!-- Tip labels B -->
<g id="tipsB"><text class="t"><tspan x="870" y="21.8">Abedus breviceps</tspan><tspan x="870" dy="6.3333">Corixidae sp 385</tspan><tspan x="870" dy="6.3333">Austrochus rugosus</tspan><tspan x="870" dy="6.3333">Mezira sayi</tspan><tspan x="870" dy="6.3333">Nabis apicalis</tspan><tspan x="870" dy="6.3333">Corythucha sp 383</tspan><tspan x="870" dy="6.3333">Oligotylus carneatus</tspan><tspan x="870" dy="6.3333">Phallopiriphysa setosus 382</tspan><tspan x="870" dy="6.3333">Microtomus cinctipes 141</tspan><tspan x="870" dy="6.3333">Microtomus sp 030</tspan><tspan x="870" dy="6.3333">Neocentrocnemis stali 693</tspan><tspan x="870" dy="6.3333">Ptilocerus sp 587</tspan><tspan x="870" dy="6.3333">Ptilocnemus femoralis 220</tspan><tspan x="870" dy="6.3333">Lophoscutus sp 052</tspan><tspan x="870" dy="6.3333">Macrocephalus barberi 283</tspan><tspan x="870" dy="6.3333">Macrocephalus sp 128</tspan><tspan x="870" dy="6.3333">Phymata fortificata 028</tspan><tspan x="870" dy="6.3333">Phymata acutangula 029</tspan><tspan x="870" dy="6.3333">Phymata pacifica 070</tspan><tspan x="870" dy="6.3333">Phymata sp 087</tspan><tspan x="870" dy="6.3333">Rasahus thoracicus 313</tspan><tspan x="870" dy="6.3333">Ectomocoris atrox 363</tspan><tspan x="870" dy="6.3333">Ectomocoris ornatus 246</tspan><tspan x="870" dy="6.3333">Peirates punctorius 216</tspan><tspan x="870" dy="6.3333">Kiskeyana palassaina 010</tspan><tspan x="870" dy="6.3333">Saica sp 042</tspan><tspan x="870" dy="6.3333">Emesaya incisa 282</tspan><tspan x="870" dy="6.3333">Stenolemoides arizonensis 304</tspan><tspan x="870" dy="6.3333">Stenolemus sp 147</tspan><tspan x="870" dy="6.3333">Carayonia n sp 1536</tspan><tspan x="870" dy="6.3333">Carayonia orientalis 1473</tspan><tspan x="870" dy="6.3333">Mangabea barbiger 288</tspan><tspan x="870" dy="6.3333">Empicoris sp 109</tspan><tspan x="870" dy="6.3333">Ploiaria hirticornis 054</tspan><tspan x="870" dy="6.3333">Pasiropsis sp 1587</tspan><tspan x="870" dy="6.3333">Pasiropsis marginata 807</tspan><tspan x="870" dy="6.3333">Pasiropsis n sp 855</tspan><tspan x="870" dy="6.3333">Pasiropsis maculata 810</tspan><tspan x="870" dy="6.3333">Pasiropsis sp 1582</tspan><tspan x="870" dy="6.3333">Tribelocephala peyrierasi 287</tspan><tspan x="870" dy="6.3333">Tribelocephalinae sp 1592</tspan><tspan x="870" dy="6.3333">Rhignia sp 139</tspan><tspan x="870" dy="6.3333">nr Microsania sp 699</tspan><tspan x="870" dy="6.3333">Racelda sp 341</tspan><tspan x="870" dy="6.3333">Ectrichodia lucida 013</tspan><tspan x="870" dy="6.3333">Cleptria coralina 014</tspan><tspan x="870" dy="6.3333">Maraenaspis sp 016</tspan><tspan x="870" dy="6.3333">Ectrychotes sp 076</tspan><tspan x="870" dy="6.3333">Ectrychotes sp 188</tspan><tspan x="870" dy="6.3333">Nanokerala browni 808</tspan><tspan x="870" dy="6.3333">Nanokerala nr browni 1232</tspan><tspan x="870" dy="6.3333">Psophis sp 1581</tspan><tspan x="870" dy="6.3333">Psophis sp 203</tspan><tspan x="870" dy="6.3333">Mirambulus niger 1817</tspan><tspan x="870" dy="6.3333">Canthesancus sp 569</tspan><tspan x="870" dy="6.3333">Thodelmus nigrispinosus 369</tspan><tspan x="870" dy="6.3333">Stenopoda sp 154</tspan><tspan x="870" dy="6.3333">Stenopodessa sp 398</tspan><tspan x="870" dy="6.3333">Oncocephalus sp 079</tspan><tspan x="870" dy="6.3333">Stenopodainae sp 365</tspan><tspan x="870" dy="6.3333">Sastrapada sp 185</tspan><tspan x="870" dy="6.3333">Gageus micropterus 309</tspan><tspan x="870" dy="6.3333">Ctenotrachelus sp 166</tspan><tspan x="870" dy="6.3333">Kodormus bruneosus 402</tspan><tspan x="870" dy="6.3333">Zelurus petax 167</tspan><tspan x="870" dy="6.3333">Zelurus sp 146</tspan><tspan x="870" dy="6.3333">Zelurus aloides 1571</tspan><tspan x="870" dy="6.3333">Zelurus sp 1812</tspan><tspan x="870" dy="6.3333">Zelurus pintoi 2850</tspan><tspan x="870" dy="6.3333">Zelurus sp 1816</tspan><tspan x="870" dy="6.3333">Opisthacidius nr mexicanus 531</tspan><tspan x="870" dy="6.3333">Opisthacidius sp 1285</tspan><tspan x="870" dy="6.3333">Opisthacidius sp 1814</tspan><tspan x="870" dy="6.3333">Cavernicola pilosa 2847</tspan><tspan x="870" dy="6.3333">Rhodnius neglectus 1573</tspan><tspan x="870" dy="6.3333">Rhodnius pictipes 1815</tspan><tspan x="870" dy="6.3333">Triatoma sp 1574</tspan><tspan x="870" dy="6.3333">Triatoma venosa 581</tspan><tspan x="870" dy="6.3333">Eratyrus mucronatus 1811</tspan><tspan x="870" dy="6.3333">Panstrongylus lignarius 1813</tspan><tspan x="870" dy="6.3333">Panstrongylus geniculatus 1569</tspan><tspan x="870" dy="6.3333">Panstrongylus nr geniculatus 1810</tspan><tspan x="870" dy="6.3333">Triatoma protracta 294</tspan><tspan x="870" dy="6.3333">Paratriatoma hirsuta 296</tspan><tspan x="870" dy="6.3333">Triatoma dimidiata 1570</tspan><tspan x="870" dy="6.3333">Triatoma recurva 170</tspan><tspan x="870" dy="6.3333">Leogorrus immaculatus 1567</tspan><tspan x="870" dy="6.3333">Leogorrus n sp 540</tspan><tspan x="870" dy="6.3333">Leogorrus longiceps 133</tspan><tspan x="870" dy="6.3333">Leogorrus longiceps 680</tspan><tspan x="870" dy="6.3333">Leogorrus litura 009</tspan><tspan x="870" dy="6.3333">Leogorrus litura 1278</tspan><tspan x="870" dy="6.3333">Alleocranum arboricolum 1579</tspan><tspan x="870" dy="6.3333">Reduvius sonoraensis 2769</tspan><tspan x="870" dy="6.3333">Durevius tuberculatus 2763</tspan><tspan x="870" dy="6.3333">Reduvius personatus 2771</tspan><tspan x="870" dy="6.3333">Kayanocoris wegneri 1590</tspan><tspan x="870" dy="6.3333">Gerbelius sp 704</tspan><tspan x="870" dy="6.3333">Gerbelius n ornatus 552</tspan><tspan x="870" dy="6.3333">Gerbelius ornatus 705</tspan><tspan x="870" dy="6.3333">Gerbelius ornatus 709</tspan><tspan x="870" dy="6.3333">Microlestria nr fuscicollis 583</tspan><tspan x="870" dy="6.3333">Microlestria fuscicollis 1809</tspan><tspan x="870" dy="6.3333">Microlestria nr fuscicollis 1360</tspan><tspan x="870" dy="6.3333">Physoderes sp 686</tspan><tspan x="870" dy="6.3333">Physoderes impexa 1572</tspan><tspan x="870" dy="6.3333">Physoderes nr vestita 1585</tspan><tspan x="870" dy="6.3333">Nalata nr spinicollis 1808</tspan><tspan x="870" dy="6.3333">Nalata setulosa 988</tspan><tspan x="870" dy="6.3333">Nalata sp 1575</tspan><tspan x="870" dy="6.3333">Nalata squalida 1424</tspan><tspan x="870" dy="6.3333">Neostachyogenys lindis 1588</tspan><tspan x="870" dy="6.3333">Heniartes putumayo 395</tspan><tspan x="870" dy="6.3333">Micrauchenus lineola 035</tspan><tspan x="870" dy="6.3333">Agriocoris flavipes 132</tspan><tspan x="870" dy="6.3333">Apiomerus lanipes 281</tspan><tspan x="870" dy="6.3333">Apiomerus ochropterus 022</tspan><tspan x="870" dy="6.3333">Acanthischium seminigrum 391</tspan><tspan x="870" dy="6.3333">Arilus cristatus 071</tspan><tspan x="870" dy="6.3333">Pyrrhosphodrus amazonus 031</tspan><tspan x="870" dy="6.3333">Pselliopus spinicollis 284</tspan><tspan x="870" dy="6.3333">Pselliopus zebra 280</tspan><tspan x="870" dy="6.3333">Castolus subinermis 347</tspan><tspan x="870" dy="6.3333">Ricolla quadrispinosa 396</tspan><tspan x="870" dy="6.3333">Zelus longipes 006</tspan><tspan x="870" dy="6.3333">Zelus renardii 090</tspan><tspan x="870" dy="6.3333">Zelus renardii 403</tspan><tspan x="870" dy="6.3333">Euagoras sp 194</tspan><tspan x="870" dy="6.3333">Coranus callosus 244</tspan><tspan x="870" dy="6.3333">Rhaphidosoma deconei 017</tspan><tspan x="870" dy="6.3333">Rhynocoris segmentarius 004</tspan><tspan x="870" dy="6.3333">Vesbius purpureus 184</tspan><tspan x="870" dy="6.3333">Velinus sp 197</tspan><tspan x="870" dy="6.3333">Ulpius sp 370</tspan><tspan x="870" dy="6.3333">Poecilosphodrus gratiosus 214</tspan><tspan x="870" dy="6.3333">Harpactorinae sp 190</tspan><tspan x="870" dy="6.3333">Sinea diadema 108</tspan><tspan x="870" dy="6.3333">Noualhierana furtiva 224</tspan><tspan x="870" dy="6.3333">Euphera histrionicus 1568</tspan><tspan x="870" dy="6.3333">Euphera pallens 2701</tspan><tspan x="870" dy="6.3333">Pseudozelurus arizonicus 2765</tspan><tspan x="870" dy="6.3333">Pseudozelurus superbus 2767</tspan><tspan x="870" dy="6.3333">Censorinus ferrugineous 2762</tspan><tspan x="870" dy="6.3333">Durganda rubra 708</tspan><tspan x="870" dy="6.3333">Tiarodes sp 1584</tspan><tspan x="870" dy="6.3333">Tiarodes versicolor 702</tspan><tspan x="870" dy="6.3333">Velitra rubropicta 685</tspan><tspan x="870" dy="6.3333">Velitra sp 1576</tspan><tspan x="870" dy="6.3333">Dyakocoris vulnerans 1591</tspan><tspan x="870" dy="6.3333">Tapeinus sp 1577</tspan><tspan x="870" dy="6.3333">Tapeinus sp 183</tspan><tspan x="870" dy="6.3333">Stalastes rufus 690</tspan><tspan x="870" dy="6.3333">Stalastes sp 1578</tspan><tspan x="870" dy="6.3333">Varus flavoannulatus 2764</tspan><tspan x="870" dy="6.3333">Cethera musiva 757</tspan><tspan x="870" dy="6.3333">Cethera musiva 779</tspan><tspan x="870" dy="6.3333">Lisarda nr vandenplasi 177</tspan><tspan x="870" dy="6.3333">Lisarda sp 078</tspan><tspan x="870" dy="6.3333">Salyavatinae sp 1583</tspan><tspan x="870" dy="6.3333">Platymeris biguttata 175</tspan><tspan x="870" dy="6.3333">Acanthaspis sp 073</tspan><tspan x="870" dy="6.3333">Plynoides sp 787</tspan><tspan x="870" dy="6.3333">Paraplynus lugubris 179</tspan><tspan x="870" dy="6.3333">Acanthaspis sp 853</tspan><tspan x="870" dy="6.3333">Acanthaspis sp 1589</tspan><tspan x="870" dy="6.3333">Acanthaspis quadriannulata 684</tspan><tspan x="870" dy="6.3333">Acanthaspis gulo 707</tspan><tspan x="870" dy="6.3333">Acanthaspis nr bimaculata 547</tspan><tspan x="870" dy="6.3333">Acanthaspis laosensis 852</tspan><tspan x="870" dy="6.3333">Inara alboguttata 1164</tspan><tspan x="870" dy="6.3333">Inara flavopicta 082</tspan><tspan x="870" dy="6.3333">Inara flavopicta 712</tspan><tspan x="870" dy="6.3333">Acanthaspis westermanni 508</tspan><tspan x="870" dy="6.3333">Acanthaspis iracunda 019</tspan><tspan x="870" dy="6.3333">Acanthaspis iracunda 736</tspan><tspan x="870" dy="6.3333">Paredocla chevalieri 018</tspan><tspan x="870" dy="6.3333">Acanthaspis bilineata 783</tspan><tspan x="870" dy="6.3333">Acanthaspis sulcipes 737</tspan></text></g>

<!-- Clade bars and labels A -->
<g id="cladesA">
<path class="bar" d="M408 18V61M408 67V101M408 104V137M512 70V136M408 145V166M408 170V229M408 231V262M408 264V275M408 278V327M408 330V350M408 353V359M408 362V421M408 425V458M408 462V476M408 480V495M408 499V561M408 564V654M408 658V717M408 722V883M408 887V901M408 951V991M408 996V1029M408 1032V1142"/>
<text class="c" x="417" y="36">Other</text><text class="c" x="417" y="54">Heteroptera</text>
<text class="cs" x="417" y="79">Hammacerinae</text><text class="cs" x="417" y="89">Centrocnemidinae</text><text class="cs" x="417" y="100">Holoptilinae</text><text class="cs" x="417" y="128">Phymatinae</text>
<text class="c" x="520" y="99">Phymatine</text><text class="c" x="520" y="117">Complex</text>
<text class="c" x="417" y="160">Peiratinae</text>
<text class="c" x="417" y="195">Emesine</text><text class="c" x="417" y="213">Complex</text>
<text class="c" x="417" y="243" font-style="italic">Pasiropsis</text><text class="c" x="417" y="261">clade</text>
<text class="c" x="417" y="275">Tribelocephalinae</text>
<text class="c" x="417" y="305">Ectrichodiinae</text>
<text class="c" x="417" y="345"><tspan font-style="italic">Psophis</tspan> clade</text>
<text class="c" x="417" y="359">Vesciinae</text>
<text class="c" x="417" y="392">Stenopodainae</text>
<text class="c" x="417" y="442" font-style="italic">Zelurus</text>
<text class="c" x="417" y="473" font-style="italic">Opisthacidius</text>
<text class="c" x="417" y="493">Rhodniini + Cavernicolini</text>
<text class="c" x="417" y="533">Triatomini</text>
<text class="c" x="417" y="607"><tspan font-style="italic">Reduvius</tspan> clade</text>
<text class="c" x="417" y="670" font-style="italic">Microlestria</text><text class="c" x="417" y="689">+ Physoderinae</text><text class="c" x="417" y="707">+ <tspan font-style="italic">Nalata</tspan></text>
<text class="c" x="417" y="796">Harpactorinae</text>
<text class="c" x="417" y="900">Cetherinae</text>
<text class="c" x="417" y="968"><tspan font-style="italic">Velitra</tspan> clade</text>
<text class="c" x="417" y="1003">Cetherinae</text><text class="c" x="417" y="1020">Salyavatinae</text>
<text class="c" x="417" y="1087" font-style="italic">Acanthaspis</text><text class="c" x="417" y="1105">clade</text>
</g>

<!-- Clade bars and labels B -->
<g id="cladesB">
<path class="bar" d="M966 18V61M966 67V101M966 104V137M1069 70V136M966 145V166M966 170V229M966 231V262M966 264V275M966 278V327M966 330V350M966 353V359M966 362V421M966 425V458M966 462V476M966 480V495M966 499V561M966 564V654M966 658V717M966 722V883M966 887V901M966 951V991M966 996V1029M966 1032V1142"/>
<text class="c" x="975" y="36">Other</text><text class="c" x="975" y="54">Heteroptera</text>
<text class="cs" x="973" y="79">Hammacerinae</text><text class="cs" x="973" y="89">Centrocnemidinae</text><text class="cs" x="973" y="100">Holoptilinae</text><text class="cs" x="973" y="128">Phymatinae</text>
<text class="c" x="1077" y="99">Phymatine</text><text class="c" x="1077" y="117">Complex</text>
<text class="c" x="975" y="160">Peiratinae</text>
<text class="c" x="975" y="195">Emesine</text><text class="c" x="975" y="213">Complex</text>
<text class="c" x="975" y="243" font-style="italic">Pasiropsis</text><text class="c" x="975" y="261">clade</text>
<text class="c" x="975" y="275">Tribelocephalinae</text>
<text class="c" x="975" y="305">Ectrichodiinae</text>
<text class="c" x="975" y="345"><tspan font-style="italic">Psophis</tspan> clade</text>
<text class="c" x="975" y="359">Vesciinae</text>
<text class="c" x="975" y="392">Stenopodainae</text>
<text class="c" x="975" y="442" font-style="italic">Zelurus</text>
<text class="c" x="975" y="473" font-style="italic">Opisthacidius</text>
<text class="c" x="975" y="493">Rhodniini + Cavernicolini</text>
<text class="c" x="975" y="533">Triatomini</text>
<text class="c" x="975" y="607"><tspan font-style="italic">Reduvius</tspan> clade</text>
<text class="c" x="975" y="670" font-style="italic">Microlestria</text><text class="c" x="975" y="689">+ Physoderinae</text><text class="c" x="975" y="707">+ <tspan font-style="italic">Nalata</tspan></text>
<text class="c" x="975" y="796">Harpactorinae</text>
<text class="c" x="975" y="900">Cetherinae</text>
<text class="c" x="975" y="968"><tspan font-style="italic">Velitra</tspan> clade</text>
<text class="c" x="975" y="1003">Cetherinae</text><text class="c" x="975" y="1020">Salyavatinae</text>
<text class="c" x="975" y="1087" font-style="italic">Acanthaspis</text><text class="c" x="975" y="1105">clade</text>
</g>

<!-- Panel letters and group labels -->
<g id="titles">
<text class="let" x="12" y="35">A</text>
<text class="let" x="571" y="35">B</text>
<text class="big" x="8" y="170">Reduviidae<tspan class="ast" dx="-17" dy="-6">*</tspan></text>
<text class="big" x="12" y="215">Higher</text>
<text class="big" x="12" y="237">Reduviidae</text>
<path d="M73 210H88" stroke="#111" stroke-width="3"/><path d="M86 204.5L101 210L86 215.5Z" fill="#111"/>
<text class="big" x="563" y="165">Reduviidae<tspan class="ast" dx="-21" dy="-6">*</tspan></text>
<text class="big" x="567" y="210">Higher</text>
<text class="big" x="567" y="232">Reduviidae</text>
<path d="M627 207H644" stroke="#111" stroke-width="3"/><path d="M642 201.5L658 207L642 212.5Z" fill="#111"/>
</g>

<!-- Pie connector lines -->
<g id="pie-connectors" class="pl">
<path d="M112 147L127 136M240 100L251 93M117 213L135 212M247 202L259 193M102 288L118 277M113 386L126 361M127 458L136 451M135 562L145 556M214 436L224 429M221 479L233 469M232 523L241 503M144 722L155 723M150 854L164 850M163 941L175 955"/>
<path d="M665 147L678 133M673 212L691 211M807 200L815 193M665 287L673 277M782 275L805 267M808 293L817 285M668 386L681 361M682 458L691 451M690 562L700 556M776 479L788 469M787 523L796 503M775 597L806 596M699 722L710 723M705 854L719 850M718 947L725 933M725 983L735 968M733 1023L744 1013M742 1060L752 1040"/>
</g>

<!-- Pies A -->
<g id="piesA">
<g id="pieA1"><circle class="halo" cx="142.5" cy="124.5" r="17.5"/><circle cx="142.5" cy="124.5" r="17.5" fill="#993300"/><path d="M142.5 124.5L142.5 107A17.5 17.5 0 0 1 143.72 107.04Z" fill="#7a9a6a"/></g>
<g id="pieA2"><circle class="halo" cx="225" cy="111" r="17.5"/><circle cx="225" cy="111" r="17.5" fill="#993300"/><path d="M225 111L225 93.5A17.5 17.5 0 0 1 226.83 93.6Z" fill="#22dd22"/><path d="M225 111L222.56 93.67A17.5 17.5 0 0 1 224.08 93.52Z" fill="#1a1acc"/></g>
<g id="pieA3"><circle class="halo" cx="153" cy="214" r="17.5"/><circle cx="153" cy="214" r="17.5" fill="#993300"/><path d="M153 214L154.22 196.54A17.5 17.5 0 0 1 156.64 231.12Z" fill="#8e8e8e"/><path d="M153 214L145.6 198.14A17.5 17.5 0 0 1 151.78 196.54Z" fill="#1a1acc"/><path d="M153 214L144.25 198.84A17.5 17.5 0 0 1 145.6 198.14Z" fill="#f4e400"/><path d="M153 214L151.78 196.54A17.5 17.5 0 0 1 154.22 196.54Z" fill="#22dd22"/></g>
<g id="pieA4"><circle class="halo" cx="232" cy="213" r="17.5"/><circle cx="232" cy="213" r="17.5" fill="#1010c8"/><path d="M232 213L230.47 195.57A17.5 17.5 0 0 1 249.23 209.96Z" fill="#22ee22"/><path d="M232 213L249.23 209.96A17.5 17.5 0 0 1 249.23 216.04Z" fill="#8e8e8e"/><path d="M232 213L249.23 216.04A17.5 17.5 0 0 1 245.79 223.77Z" fill="#ffff00"/><path d="M232 213L245.79 223.77A17.5 17.5 0 0 1 240.22 228.45Z" fill="#9a10c8"/></g>
<g id="pieA5"><circle class="halo" cx="87.5" cy="297.5" r="17.5"/><circle cx="87.5" cy="297.5" r="17.5" fill="#993300"/><path d="M87.5 297.5L78.75 282.34A17.5 17.5 0 0 1 85.97 280.07Z" fill="#1a1acc"/><path d="M87.5 297.5L77.46 283.16A17.5 17.5 0 0 1 78.75 282.34Z" fill="#f4e400"/><path d="M87.5 297.5L85.97 280.07A17.5 17.5 0 0 1 88.42 280.02Z" fill="#22dd22"/></g>
<g id="pieA6"><circle class="halo" cx="105.7" cy="404" r="17.5"/><circle cx="105.7" cy="404" r="17.5" fill="#993300"/></g>
<g id="pieA7"><circle class="halo" cx="113" cy="472.5" r="17.5"/><circle cx="113" cy="472.5" r="17.5" fill="#993300"/></g>
<g id="pieA8"><circle class="halo" cx="120" cy="572.5" r="17.5"/><circle cx="120" cy="572.5" r="17.5" fill="#993300"/><path d="M120 572.5L120 555A17.5 17.5 0 0 1 120.9 555.02Z" fill="#55aa33"/></g>
<g id="pieA9"><circle class="halo" cx="197" cy="449.5" r="17.5"/><circle cx="197" cy="449.5" r="17.5" fill="#8e8e8e"/><path d="M197 449.5L197 432A17.5 17.5 0 0 1 202.99 465.94Z" fill="#22ee22"/></g>
<g id="pieA10"><circle class="halo" cx="204" cy="488" r="17.5"/><circle cx="204" cy="488" r="17.5" fill="#8e8e8e"/><path d="M204 488L204 470.5A17.5 17.5 0 0 1 212.75 503.16Z" fill="#22ee22"/><path d="M204 488L187.1 483.47A17.5 17.5 0 0 1 204 470.5Z" fill="#ff1a1a"/></g>
<g id="pieA11"><circle class="halo" cx="228" cy="541" r="17.5"/><circle cx="228" cy="541" r="17.5" fill="#ff1a1a"/><path d="M228 541L228 523.5A17.5 17.5 0 0 1 228.92 523.52Z" fill="#e8c000"/></g>
<g id="pieA12"><circle class="halo" cx="127" cy="716" r="17.5"/><circle cx="127" cy="716" r="17.5" fill="#993300"/></g>
<g id="pieA13"><circle class="halo" cx="132" cy="856" r="17.5"/><circle cx="132" cy="856" r="17.5" fill="#993300"/></g>
<g id="pieA14"><circle class="halo" cx="148" cy="930" r="17.5"/><circle cx="148" cy="930" r="17.5" fill="#993300"/></g>
</g>

<!-- Pies B -->
<g id="piesB">
<g id="pieB1"><circle class="halo" cx="697.5" cy="122.5" r="17.5"/><circle cx="697.5" cy="122.5" r="17.5" fill="#ff9a10"/><path d="M697.5 122.5L699.03 105.07A17.5 17.5 0 0 1 704.9 106.64Z" fill="#111"/><path d="M697.5 122.5L704.9 106.64A17.5 17.5 0 0 1 706.25 107.34Z" fill="#ff1a1a"/><path d="M697.5 122.5L695.97 105.07A17.5 17.5 0 0 1 699.03 105.07Z" fill="#33eecc"/><path d="M697.5 122.5L694.46 105.27A17.5 17.5 0 0 1 695.97 105.07Z" fill="#2222ee"/><path d="M697.5 122.5L692.97 105.6A17.5 17.5 0 0 1 694.46 105.27Z" fill="#ff22cc"/></g>
<g id="pieB2"><circle class="halo" cx="709" cy="210" r="17.5"/><circle cx="709" cy="210" r="17.5" fill="#ff9a10"/></g>
<g id="pieB3"><circle class="halo" cx="794" cy="212" r="17.5"/><circle cx="794" cy="212" r="17.5" fill="#ff9a10"/><path d="M794 212L792.47 229.43A17.5 17.5 0 0 1 792.47 194.57Z" fill="#2a10ee"/><path d="M794 212L794 229.5A17.5 17.5 0 0 1 792.47 229.43Z" fill="#ff1a1a"/><path d="M794 212L793.08 194.52A17.5 17.5 0 0 1 795.53 194.57Z" fill="#111"/></g>
<g id="pieB4"><circle class="halo" cx="648" cy="297.5" r="17.5"/><circle cx="648" cy="297.5" r="17.5" fill="#ff9a10"/><path d="M648 297.5L646.47 280.07A17.5 17.5 0 0 1 647.4 280.01Z" fill="#b030c0"/></g>
<g id="pieB5"><circle class="halo" cx="763" cy="285" r="17.5"/><circle cx="763" cy="285" r="17.5" fill="#ff00cc"/><path d="M763 285L761.47 267.57A17.5 17.5 0 0 1 763 267.5Z" fill="#33eecc"/><path d="M763 285L763 267.5A17.5 17.5 0 0 1 764.22 267.54Z" fill="#111"/><path d="M763 285L764.22 267.54A17.5 17.5 0 0 1 766.04 267.77Z" fill="#ff9a10"/></g>
<g id="pieB6"><circle class="halo" cx="797" cy="312" r="17.5"/><circle cx="797" cy="312" r="17.5" fill="#ff00cc"/><path d="M797 312L797 294.5A17.5 17.5 0 0 1 797.92 294.52Z" fill="#33aa66"/></g>
<g id="pieB7"><circle class="halo" cx="660" cy="404" r="17.5"/><circle cx="660" cy="404" r="17.5" fill="#ff9a10"/><path d="M660 404L642.57 402.47A17.5 17.5 0 0 1 655.47 387.1Z" fill="#ff00cc"/></g>
<g id="pieB8"><circle class="halo" cx="668" cy="472.5" r="17.5"/><circle cx="668" cy="472.5" r="17.5" fill="#ff9a10"/></g>
<g id="pieB9"><circle class="halo" cx="675" cy="572.5" r="17.5"/><circle cx="675" cy="572.5" r="17.5" fill="#ff9a10"/></g>
<g id="pieB10"><circle class="halo" cx="759" cy="488" r="17.5"/><circle cx="759" cy="488" r="17.5" fill="#ff9a10"/><path d="M759 488L742.1 483.47A17.5 17.5 0 0 1 760.53 470.57Z" fill="#ff1a1a"/></g>
<g id="pieB11"><circle class="halo" cx="783" cy="541" r="17.5"/><circle cx="783" cy="541" r="17.5" fill="#ff1a1a"/></g>
<g id="pieB12"><circle class="halo" cx="757" cy="598" r="17.5"/><circle cx="757" cy="598" r="17.5" fill="#ff9a10"/><path d="M757 598L751.01 614.44A17.5 17.5 0 0 1 755.47 580.57Z" fill="#33eecc"/></g>
<g id="pieB13"><circle class="halo" cx="682" cy="716" r="17.5"/><circle cx="682" cy="716" r="17.5" fill="#ff9a10"/></g>
<g id="pieB14"><circle class="halo" cx="687" cy="856" r="17.5"/><circle cx="687" cy="856" r="17.5" fill="#ff9a10"/></g>
<g id="pieB15"><circle class="halo" cx="706" cy="966" r="17.5"/><circle cx="706" cy="966" r="17.5" fill="#33eecc"/><path d="M706 966L706 948.5A17.5 17.5 0 0 1 707.83 948.6Z" fill="#ff9a10"/></g>
<g id="pieB16"><circle class="halo" cx="716" cy="1001" r="17.5"/><circle cx="716" cy="1001" r="17.5" fill="#33eecc"/><path d="M716 1001L719.04 983.77A17.5 17.5 0 0 1 720.53 1017.9Z" fill="#ff9a10"/><path d="M716 1001L714.47 983.57A17.5 17.5 0 0 1 719.04 983.77Z" fill="#111"/></g>
<g id="pieB17"><circle class="halo" cx="722" cy="1037" r="17.5"/><circle cx="722" cy="1037" r="17.5" fill="#33eecc"/><path d="M722 1037L722.92 1019.52A17.5 17.5 0 0 1 728.56 1020.77Z" fill="#111"/></g>
<g id="pieB18"><circle class="halo" cx="737" cy="1077" r="17.5"/><circle cx="737" cy="1077" r="17.5" fill="#111"/><path d="M737 1077L719.77 1073.96A17.5 17.5 0 0 1 736.08 1059.52Z" fill="#ff9a10"/></g>
</g>

<!-- Arrows -->
<g id="arrows" class="arr">
<path d="M243 138L252.7 128.8" stroke="#22ee22" marker-end="url(#mG)"/>
<path d="M252 232L260.4 222.5" stroke="#22ee22" marker-end="url(#mG)"/>
<path d="M97 378L110.4 362.5" stroke="#6b0a0a" marker-end="url(#mM)"/>
<path d="M199 430L206.6 420.7" stroke="#22ee22" marker-end="url(#mG)"/>
<path d="M217 518L225.6 507.7" stroke="#ff2020" marker-end="url(#mR)"/>
<path d="M245 655L252.9 644.9" stroke="#22ee22" marker-end="url(#mG)"/>
<path d="M245 800L253.6 789.7" stroke="#22ee22" marker-end="url(#mG)"/>
<path d="M293 1128L298.8 1120.8" stroke="#22ee22" marker-end="url(#mG)"/>
<path d="M795 127L803.8 115.9" stroke="#111" marker-end="url(#mK)"/>
<path d="M772 518L780.6 507.7" stroke="#ff2020" marker-end="url(#mR)"/>
<path d="M815 500L821.7 491.8" stroke="#ff2020" marker-end="url(#mR)"/>
<path d="M770 587L778.6 576.7" stroke="#33ffee" marker-end="url(#mC)"/>
<path d="M768 760L773.2 754.4" stroke="#33ffee" marker-end="url(#mC)"/>
<path d="M700 942L708.4 932.5" stroke="#33ffee" marker-end="url(#mC)"/>
<path d="M745 1060L755.5 1047.6" stroke="#111" marker-end="url(#mK)"/>
</g>

<!-- Legend A -->
<g id="legendA">
<rect x="68" y="1045.5" width="23" height="12" fill="#00ffff"/><text class="lg" x="95" y="1055.5">Aquatic</text>
<rect x="68" y="1060.3" width="23" height="12" fill="#00ff00"/><text class="lg" x="95" y="1070.3">On Foliage</text>
<rect x="68" y="1075.1" width="23" height="12" fill="#999"/><text class="lg" x="95" y="1085.1">Ground-dwelling</text>
<rect x="68" y="1089.9" width="23" height="12" fill="#660000"/><text class="lg" x="95" y="1099.9">Bark-Associated</text>
<rect x="68" y="1104.7" width="23" height="12" fill="#ff0000"/><text class="lg" x="95" y="1114.7">Mammal/"Reptile" Nest</text>
<rect x="68" y="1119.5" width="23" height="12" fill="#ffff00"/><text class="lg" x="95" y="1129.5">Palm Fronds</text>
<rect x="68" y="1134.3" width="23" height="12" fill="#9900cc"/><text class="lg" x="95" y="1144.3">Leaf Litter</text>
<rect x="68" y="1149.1" width="23" height="12" fill="#0000cc"/><text class="lg" x="95" y="1159.1">Spider Webs</text>
<rect x="68" y="1163.9" width="23" height="12" fill="#006600"/><text class="lg" x="95" y="1173.9">Bird Nest</text>
<rect x="68" y="1178.7" width="23" height="12" fill="#ff33ff"/><text class="lg" x="95" y="1188.7">Epiphytes</text>
</g>

<!-- Legend B -->
<g id="legendB">
<rect x="578" y="1079" width="22" height="12" fill="#ff6f00"/><text class="lg" x="605" y="1089">Generalist predator</text>
<rect x="578" y="1093.3" width="22" height="12" fill="#000"/><text class="lg" x="605" y="1103.3">Ants</text>
<rect x="578" y="1107.6" width="22" height="12" fill="#33ffff"/><text class="lg" x="605" y="1117.6">Termites</text>
<rect x="578" y="1121.9" width="22" height="12" fill="#0000ff"/><text class="lg" x="605" y="1131.9">Spiders</text>
<rect x="578" y="1136.2" width="22" height="12" fill="#ff0000"/><text class="lg" x="605" y="1146.2">Vertebrate blood</text>
<rect x="578" y="1150.5" width="22" height="12" fill="#ff00cc"/><text class="lg" x="605" y="1160.5">Millipede</text>
<rect x="578" y="1164.8" width="22" height="12" fill="#00ff00"/><text class="lg" x="605" y="1174.8">Herbivore</text>
<rect x="578" y="1179.1" width="22" height="12" fill="#993300"/><text class="lg" x="605" y="1189.1">Fungivore</text>
</g>
</svg>
